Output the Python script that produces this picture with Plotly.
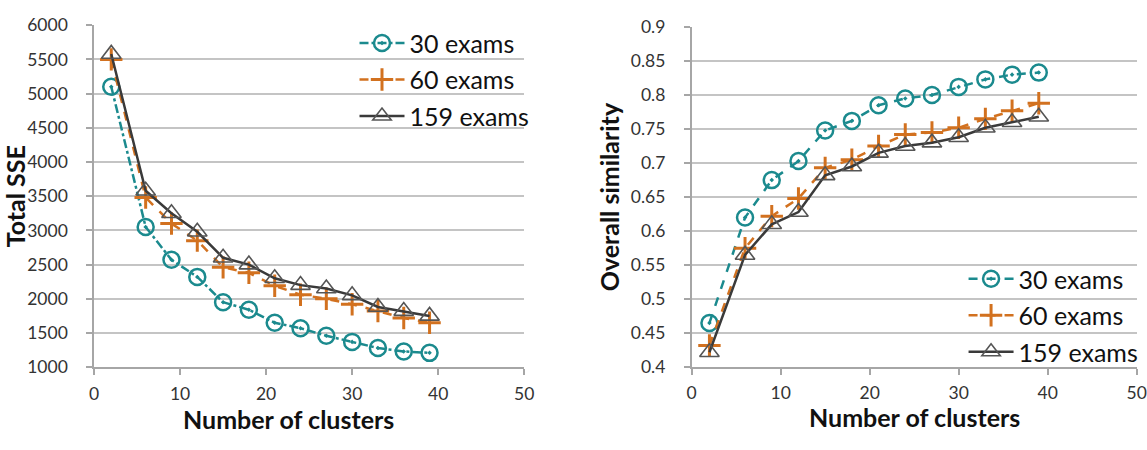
import plotly.graph_objects as go

clusters = [2, 6, 9, 12, 15, 18, 21, 24, 27, 30, 33, 36, 39]

sse_30 = [5100, 3050, 2570, 2320, 1950, 1840, 1650, 1570, 1460, 1370, 1280, 1230, 1210]
sse_60 = [5500, 3480, 3100, 2850, 2460, 2380, 2190, 2060, 2000, 1920, 1820, 1720, 1650]
sse_159 = [5580, 3580, 3250, 2980, 2600, 2500, 2300, 2200, 2150, 2050, 1880, 1820, 1750]

sim_30 = [0.465, 0.620, 0.675, 0.703, 0.748, 0.762, 0.785, 0.795, 0.800, 0.812, 0.823, 0.830, 0.833]
sim_60 = [0.432, 0.575, 0.622, 0.648, 0.693, 0.705, 0.725, 0.742, 0.745, 0.752, 0.765, 0.777, 0.788]
sim_159 = [0.422, 0.565, 0.610, 0.628, 0.682, 0.695, 0.715, 0.725, 0.730, 0.738, 0.752, 0.760, 0.768]

series_names = ["30 exams", "60 exams", "159 exams"]
x_title = "Number of clusters"

TEAL = "#1b8a8e"
ORANGE = "#d2711f"
DARK = "#3a3a3a"
TRI = "#555555"
GRID = "#c4c4c4"
FONT = "Lato"

fig = go.Figure()

def add_series(x, ys, xaxis, yaxis, legend, dash30):
    styles = [
        dict(color=TEAL, mcolor=TEAL, dash=dash30, symbol="circle-open-dot", msize=16, mw=2.5),
        dict(color=ORANGE, mcolor=ORANGE, dash="dash", symbol="cross-thin-open", msize=16, mw=3),
        dict(color=DARK, mcolor=TRI, dash="solid", symbol="triangle-up-open", msize=17, mw=1.6),
    ]
    for name, y, s in zip(series_names, ys, styles):
        fig.add_trace(go.Scatter(
            x=x, y=y, name=name, mode="lines+markers",
            xaxis=xaxis, yaxis=yaxis, legend=legend,
            legendgroup=legend + name,
            line=dict(color=s["color"], width=2.5, dash=s["dash"]),
            marker=dict(symbol=s["symbol"], size=s["msize"], color=s["mcolor"],
                        line=dict(width=s["mw"], color=s["mcolor"])),
        ))

add_series(clusters, [sse_30, sse_60, sse_159], "x", "y", "legend", "dashdot")
add_series(clusters, [sim_30, sim_60, sim_159], "x2", "y2", "legend2", "dash")

axis_common = dict(
    showline=True, linecolor="#a6a6a6", linewidth=1.5,
    ticks="outside", tickcolor="#a6a6a6", ticklen=6, tickwidth=1.5,
    tickfont=dict(family=FONT, size=17.5, color="#333333"),
    zeroline=False,
)
TITLE_FONT = dict(family=FONT, size=25, color="#111111")
LEG_FONT = dict(family=FONT, size=25, color="#111111")

fig.update_layout(
    width=1147, height=450,
    margin=dict(l=0, r=0, t=0, b=0, autoexpand=False),
    paper_bgcolor="white", plot_bgcolor="white",
    font=dict(family=FONT, color="#111111"),
    xaxis=dict(domain=[0.082, 0.457], range=[0, 50], dtick=10, showgrid=False,
               anchor="y", ticklabelstandoff=4, ticklabeloverflow="allow", **axis_common),
    yaxis=dict(domain=[0.184, 0.944], range=[1000, 6000], dtick=500,
               showgrid=True, gridcolor=GRID, gridwidth=1.5,
               title=dict(text="<b>Total SSE</b>", font=TITLE_FONT, standoff=6),
               anchor="x", ticklabelstandoff=15, **axis_common),
    xaxis2=dict(domain=[0.603, 0.991], range=[0, 50], dtick=10, showgrid=False,
                anchor="y2", ticklabelstandoff=3, ticklabeloverflow="allow", **axis_common),
    yaxis2=dict(domain=[0.184, 0.94], range=[0.4, 0.9], dtick=0.05,
                showgrid=True, gridcolor=GRID, gridwidth=1.5,
                title=dict(text="<b>Overall similarity</b>", font=TITLE_FONT, standoff=4),
                anchor="x2", ticklabelstandoff=15, **axis_common),
    legend=dict(x=0.466, y=0.955, xanchor="right", yanchor="top",
                bgcolor="rgba(0,0,0,0)", font=LEG_FONT,
                tracegroupgap=1, itemwidth=45),
    legend2=dict(x=0.997, y=0.431, xanchor="right", yanchor="top",
                 bgcolor="rgba(0,0,0,0)", font=LEG_FONT,
                 tracegroupgap=1, itemwidth=45),
    showlegend=True,
    annotations=[
        dict(text=f"<b>{x_title}</b>", x=288 / 1147, y=(450 - 419) / 450,
             xref="paper", yref="paper", xanchor="center", yanchor="middle",
             showarrow=False, font=TITLE_FONT),
        dict(text=f"<b>{x_title}</b>", x=914 / 1147, y=(450 - 417) / 450,
             xref="paper", yref="paper", xanchor="center", yanchor="middle",
             showarrow=False, font=TITLE_FONT),
    ],
)

fig.write_html("out.html")
